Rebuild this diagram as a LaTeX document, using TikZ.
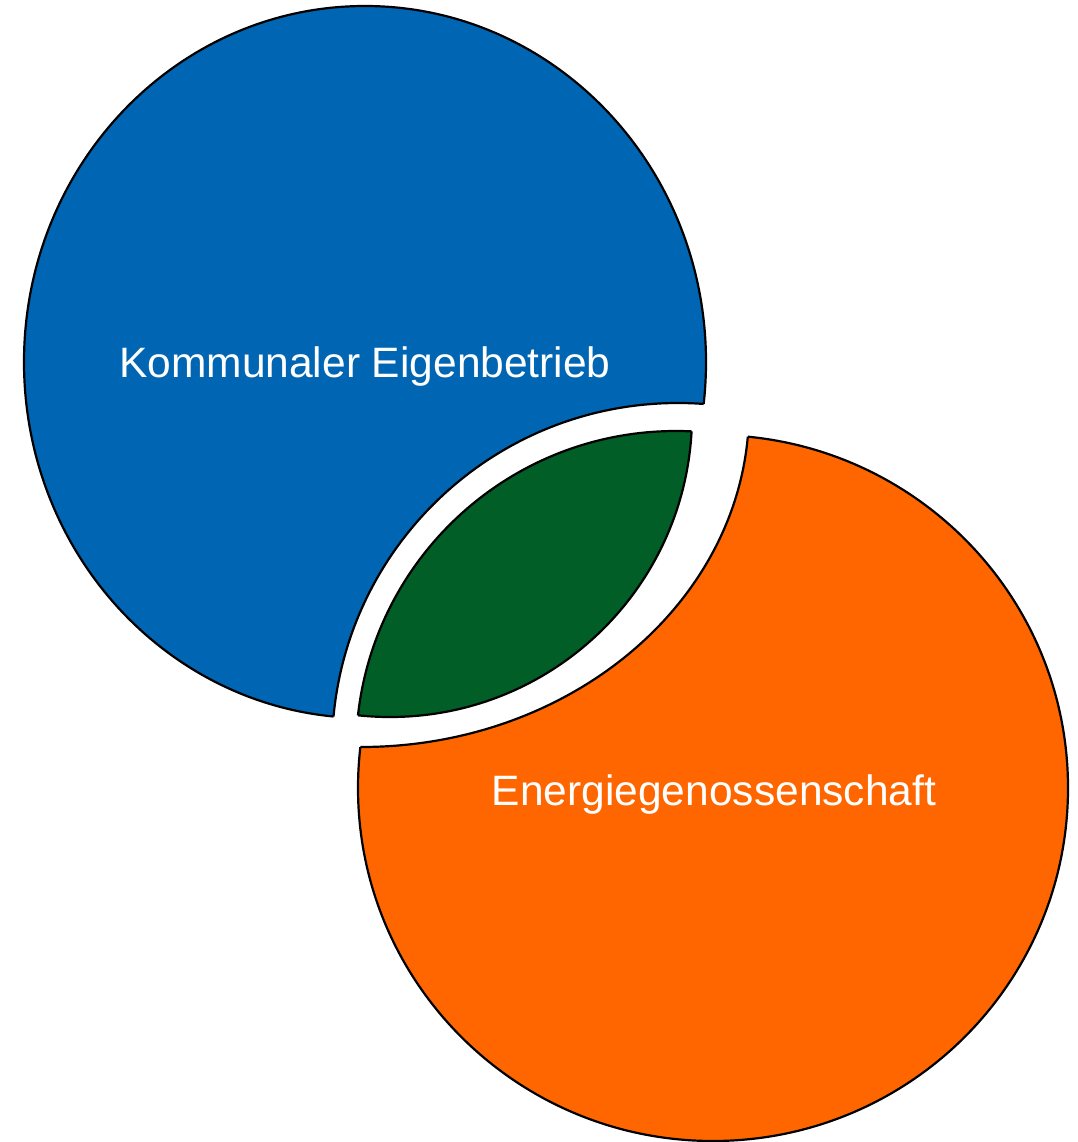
\documentclass[tikz,border=0pt]{standalone}
\usepackage{fontspec}
\setmainfont{Liberation Sans}
\usepackage{tikz}
\definecolor{kblue}{RGB}{0,102,179}
\definecolor{egreen}{RGB}{0,94,38}
\definecolor{eorange}{RGB}{255,102,0}

\begin{document}
\begin{tikzpicture}[x=1pt, y=-1pt,
  every node/.style={text=white, inner sep=0pt, anchor=base, font=\fontsize{42.5}{50}\selectfont},
  piece/.style={draw=black, line width=2.2pt}]
\useasboundingbox (0,0) rectangle (1077,1142);

\begin{scope}[even odd rule]
\clip (0,0) rectangle (1077,1142) (678,749) circle[radius=346];
\fill[kblue] (365,362) ellipse[x radius=341, y radius=356];
\draw[piece] (365,362) ellipse[x radius=341, y radius=356];
\end{scope}
\begin{scope}
\clip (365,362) ellipse[x radius=341, y radius=356];
\draw[piece] (678,749) circle[radius=346];
\end{scope}

\begin{scope}[even odd rule]
\clip (0,0) rectangle (1077,1142) (361,410) ellipse[x radius=388, y radius=337];
\fill[eorange] (713,788) ellipse[x radius=355, y radius=353];
\draw[piece] (713,788) ellipse[x radius=355, y radius=353];
\end{scope}
\begin{scope}
\clip (713,788) ellipse[x radius=355, y radius=353];
\draw[piece] (361,410) ellipse[x radius=388, y radius=337];
\end{scope}

\begin{scope}
\clip (676,751) circle[radius=320];
\fill[egreen] (390,415) circle[radius=302];
\draw[piece] (390,415) circle[radius=302];
\end{scope}
\begin{scope}
\clip (390,415) circle[radius=302];
\draw[piece] (676,751) circle[radius=320];
\end{scope}

\node (kommunal) at (365,377) {Kommunaler Eigenbetrieb};
\node (genossen) at (714,805) {Energiegenossenschaft};
\end{tikzpicture}
\end{document}
